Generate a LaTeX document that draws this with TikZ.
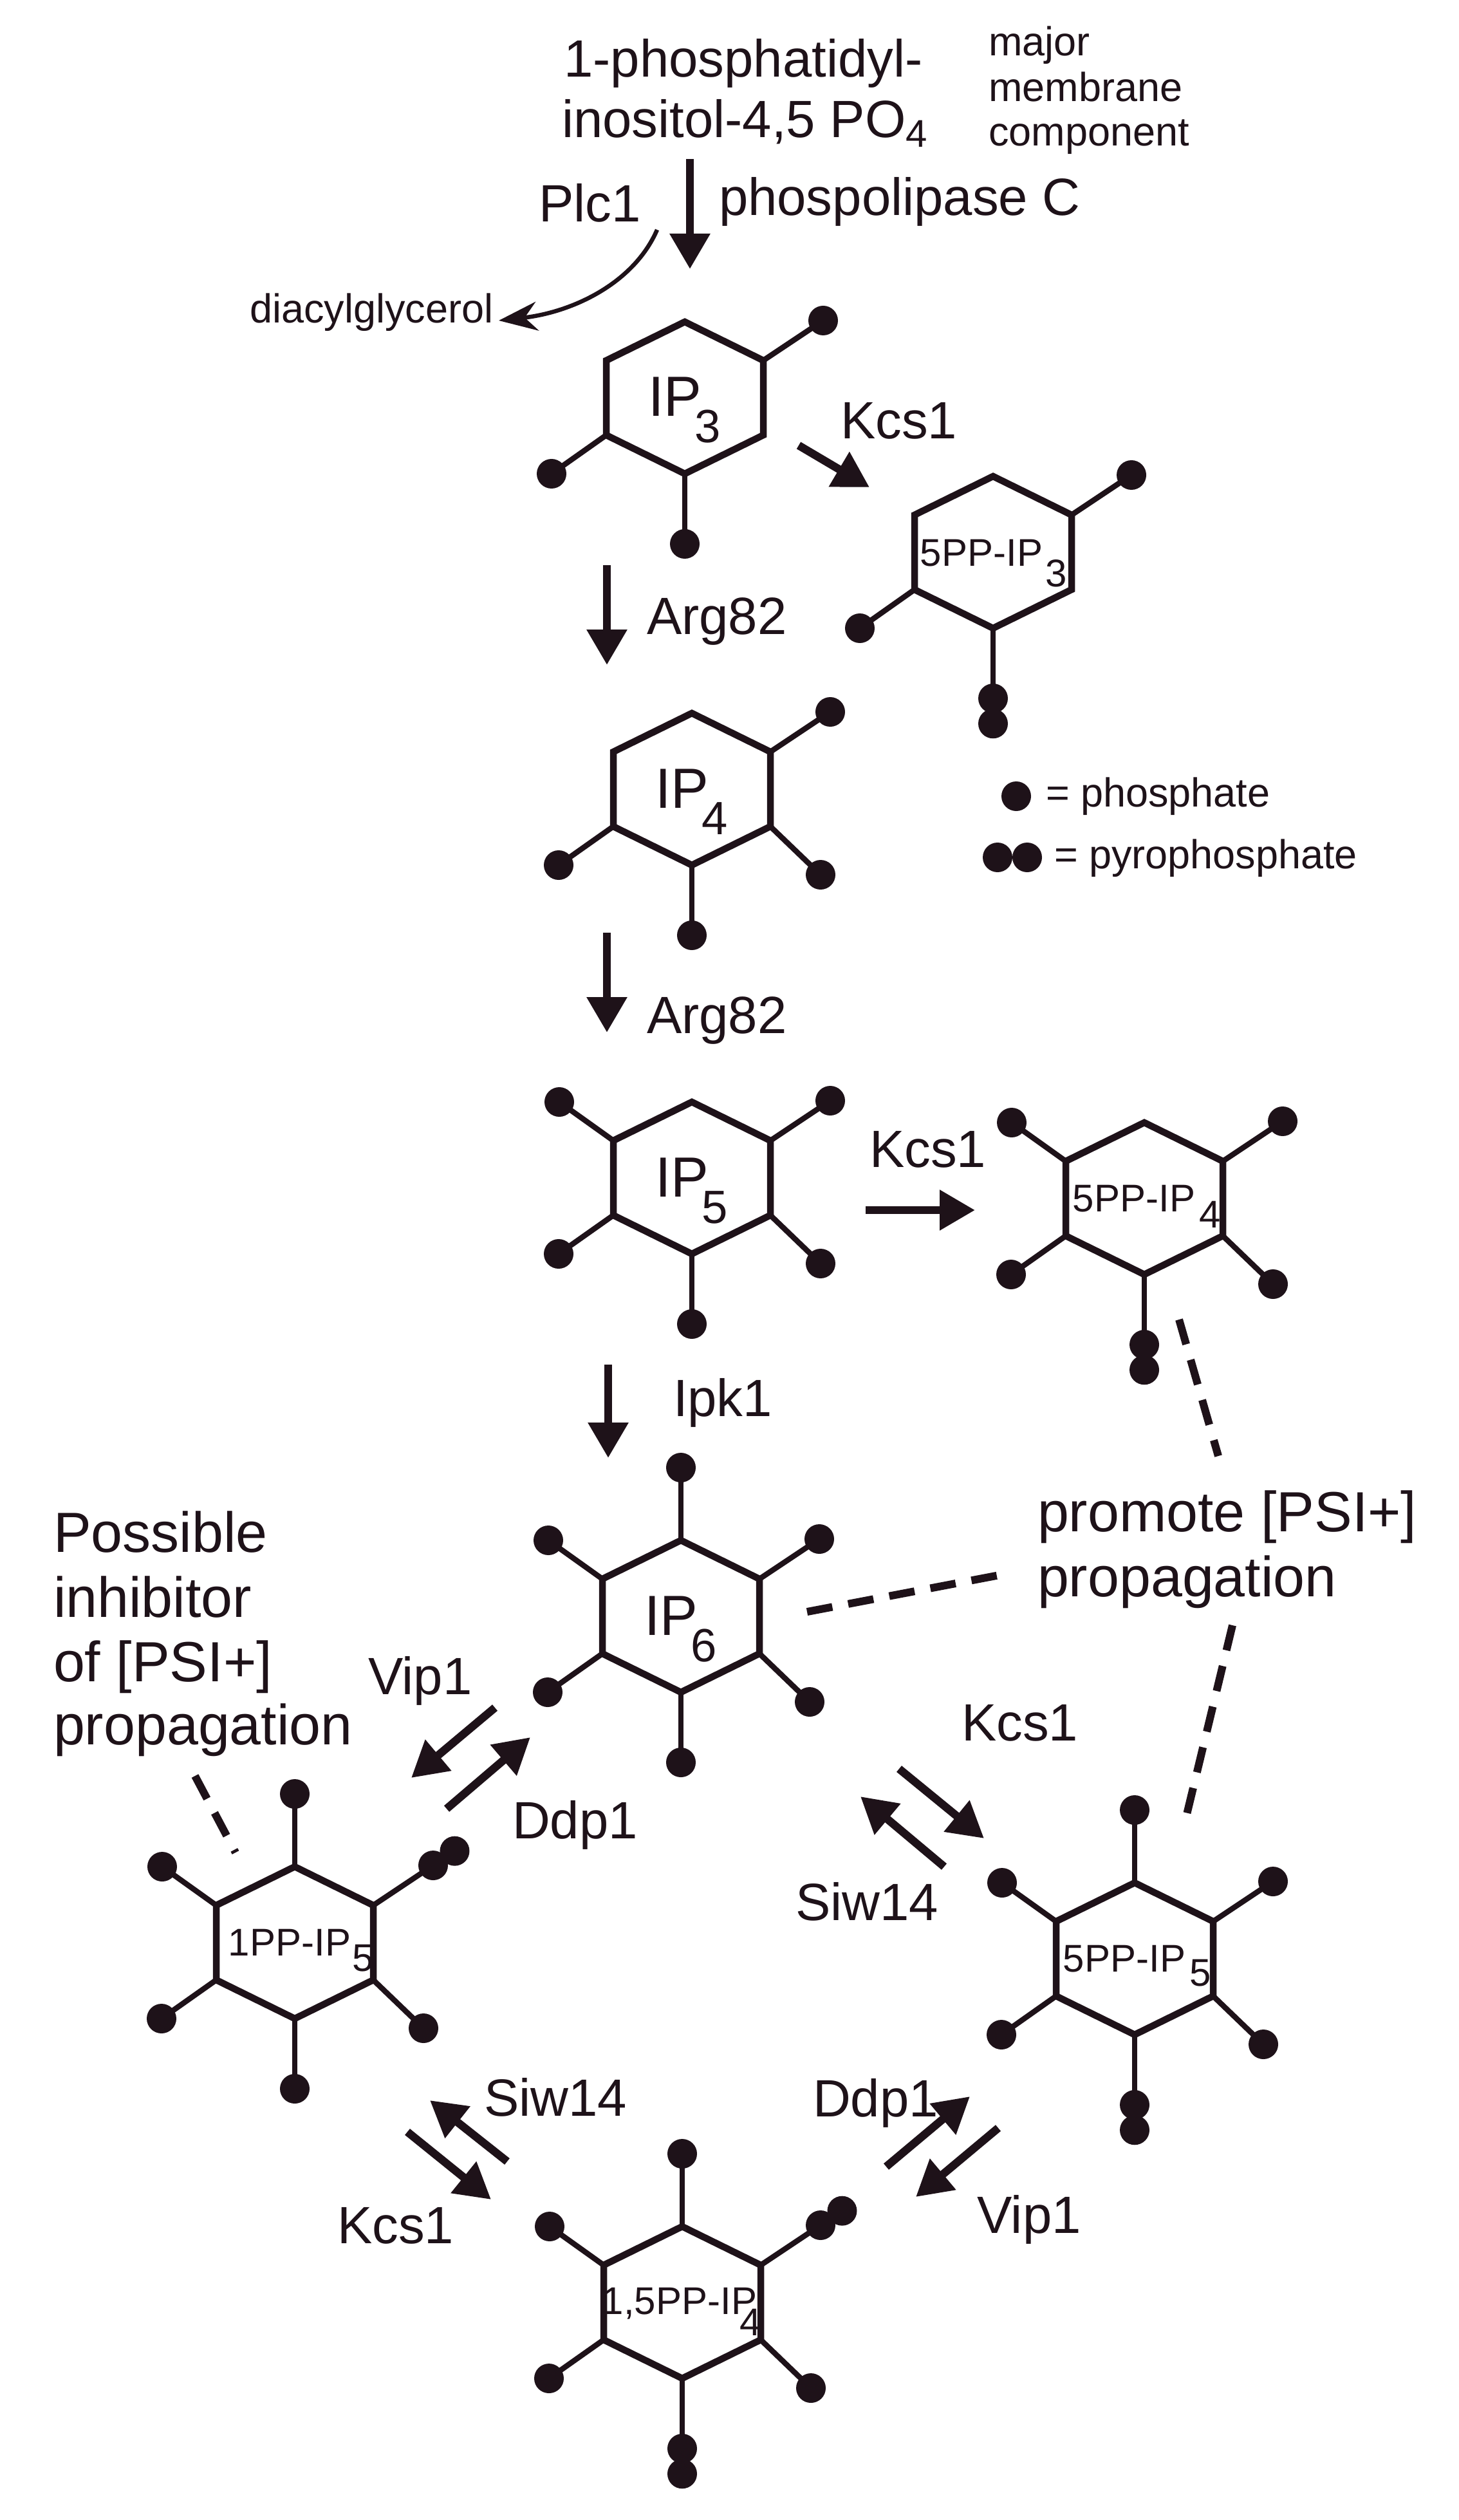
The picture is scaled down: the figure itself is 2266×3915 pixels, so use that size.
\documentclass[tikz,border=0pt]{standalone}
\usepackage{fontspec}
\setmainfont{Liberation Sans}
\usetikzlibrary{arrows.meta}
\definecolor{ink}{HTML}{1E1219}
\newcommand\ph[5]{%
  \ifnum#5=2
    \draw[bond] (#1,#2) -- ++(1.33*#3,1.33*#4);
    \fill[ink] (#1+1.36*#3,#2+1.36*#4) circle[radius=4.6pt];
  \else
    \draw[bond] (#1,#2) -- ++(#3,#4);
  \fi
  \fill[ink] (#1+#3,#2+#4) circle[radius=4.6pt];}
\newcommand\bT[1][1]{\ph{0}{-118}{0}{-113}{#1}}
\newcommand\bUR[1][1]{\ph{122}{-58}{93}{-62}{#1}}
\newcommand\bLR[1][1]{\ph{122}{58}{78}{75}{#1}}
\newcommand\bB[1][1]{\ph{0}{118}{0}{109}{#1}}
\newcommand\bLL[1][1]{\ph{-122}{58}{-85}{60}{#1}}
\newcommand\bUL[1][1]{\ph{-122}{-58}{-84}{-60}{#1}}
\newcommand\ring{\draw[hex] (0,-118)--(122,-58)--(122,58)--(0,118)--(-122,58)--(-122,-58)--cycle;}
\newcommand\sub[1]{{\fontsize{12}{12}\selectfont\raisebox{-0.25em}{#1}}}
\tikzset{
  hex/.style={ink,line width=2.1pt,line join=miter},
  bond/.style={ink,line width=1.7pt},
  rxn/.style={ink,line width=2.5pt,-{Triangle[length=11pt,width=12pt]}},
  dsh/.style={ink,line width=2.4pt,dash pattern=on 8pt off 5pt},
  lab/.style={text=ink,font=\fontsize{16.3}{19}\selectfont,inner sep=0,anchor=base west},
  sm/.style={text=ink,font=\fontsize{12.6}{15}\selectfont,inner sep=0,anchor=base west},
  psi/.style={text=ink,font=\fontsize{17.6}{21}\selectfont,inner sep=0,anchor=base west},
  big/.style={text=ink,font=\fontsize{17.6}{20}\selectfont,inner sep=0,anchor=base},
  bigsub/.style={text=ink,font=\fontsize{14.5}{16}\selectfont,inner sep=0,anchor=base west},
  hl/.style={text=ink,font=\fontsize{12}{14}\selectfont,inner sep=0,anchor=base},
  hls/.style={text=ink,font=\fontsize{12}{14}\selectfont,inner sep=0,anchor=base west},
}
\begin{document}
\begin{tikzpicture}[x=0.2pt,y=-0.2pt]
\useasboundingbox (0,0) rectangle (2266,3915);
\fill[white] (0,0) rectangle (2266,3915);
% top texts
\node[lab,anchor=base] (t1) at (1155,120) {1-phosphatidyl-};
\node[lab,anchor=base] (t2) at (1157,214) {inositol-4,5 PO\sub{4}};
\node[sm] (maj1) at (1535,87) {major};
\node[sm] (maj2) at (1535,158) {membrane};
\node[sm] (maj3) at (1535,227) {component};
\node[lab] (plc) at (836,345) {Plc1};
\node[lab] (plcC) at (1116,335) {phospolipase C};
\node[sm] (dag) at (387,502) {diacylglycerol};
% molecules
\begin{scope}[shift={(1064,618)}]\ring\bUR\bLL\bB
 \node[big] (ip3) at (-15,29) {IP};\node[bigsub] (ip3s) at (14,70) {3};\end{scope}
\begin{scope}[shift={(1543,858)}]\ring\bUR\bLL\bB[2]
 \node[hl] (p3) at (-18,22) {5PP-IP};\node[hls] (p3s) at (80,53) {3};\end{scope}
\begin{scope}[shift={(1075,1226)}]\ring\bUR\bLL\bLR\bB
 \node[big] (ip4) at (-15,29) {IP};\node[bigsub] (ip4s) at (14,70) {4};\end{scope}
\begin{scope}[shift={(1075,1830)}]\ring\bUL\bUR\bLL\bLR\bB
 \node[big] (ip5) at (-15,29) {IP};\node[bigsub] (ip5s) at (14,70) {5};\end{scope}
\begin{scope}[shift={(1778,1862)}]\ring\bUL\bUR\bLL\bLR\bB[2]
 \node[hl] (p4) at (-16,20) {5PP-IP};\node[hls] (p4s) at (84,45) {4};\end{scope}
\begin{scope}[shift={(1058,2511)}]\ring\bT\bUL\bUR\bLL\bLR\bB
 \node[big] (ip6) at (-15,29) {IP};\node[bigsub] (ip6s) at (14,70) {6};\end{scope}
\begin{scope}[shift={(458,3018)}]\ring\bT\bUL\bUR[2]\bLL\bLR\bB
 \node[hl] (p15) at (-8,20) {1PP-IP};\node[hls] (p15s) at (88,44) {5};\end{scope}
\begin{scope}[shift={(1763,3043)}]\ring\bT\bUL\bUR\bLL\bLR\bB[2]
 \node[hl] (p55) at (-16,20) {5PP-IP};\node[hls] (p55s) at (84,42) {5};\end{scope}
\begin{scope}[shift={(1060,3577)}]\ring\bT\bUL\bUR[2]\bLL\bLR\bB[2]
 \node[hl] (p154) at (-4,18) {1,5PP-IP};\node[hls] (p154s) at (88,51) {4};\end{scope}
% legend
\fill[ink] (1579,1237) circle[radius=4.6pt];
\node[sm] (leg1) at (1624,1253) {= phosphate};
\fill[ink] (1550,1332) circle[radius=4.6pt];
\fill[ink] (1596,1332) circle[radius=4.6pt];
\node[sm] (leg2) at (1637,1349) {= pyrophosphate};
% arrow coordinates
\coordinate (a0s) at (1072,247); \coordinate (a0e) at (1072,418);
\coordinate (c0s) at (1021,357); \coordinate (c0e) at (775,498);
\coordinate (a1s) at (1241,692); \coordinate (a1e) at (1351,757);
\coordinate (a2s) at (943,878); \coordinate (a2e) at (943,1033);
\coordinate (a3s) at (943,1449); \coordinate (a3e) at (943,1604);
\coordinate (a4s) at (1345,1880); \coordinate (a4e) at (1515,1880);
\coordinate (a5s) at (945,2120); \coordinate (a5e) at (945,2265);
\coordinate (a6s) at (769,2653); \coordinate (a6e) at (639,2762);
\coordinate (a7s) at (694,2810); \coordinate (a7e) at (824,2699);
\coordinate (a8s) at (1397,2748); \coordinate (a8e) at (1529,2856);
\coordinate (a9s) at (1467,2900); \coordinate (a9e) at (1337,2791);
\coordinate (b1s) at (788,3358); \coordinate (b1e) at (668,3263);
\coordinate (b2s) at (633,3312); \coordinate (b2e) at (763,3417);
\coordinate (b3s) at (1377,3366); \coordinate (b3e) at (1507,3257);
\coordinate (b4s) at (1551,3306); \coordinate (b4e) at (1423,3413);
\foreach \a in {a0,a1,a2,a3,a4,a5,a6,a7,a8,a9,b1,b2,b3,b4} \draw[rxn] (\a s) -- (\a e);
\draw[ink,line width=1.3pt,-{Stealth[length=12pt,width=9pt]}] (c0s) .. controls (985,440) and (890,485) .. (c0e);
% labels
\node[lab] (l1) at (1305,682) {Kcs1};
\node[lab] (l2) at (1004,985) {Arg82};
\node[lab] (l3) at (1004,1605) {Arg82};
\node[lab] (l4) at (1350,1813) {Kcs1};
\node[lab] (l5) at (1045,2200) {Ipk1};
\node[lab] (l6) at (571,2632) {Vip1};
\node[lab] (l7) at (795,2856) {Ddp1};
\node[lab] (l8) at (1493,2704) {Kcs1};
\node[lab] (l9) at (1235,2983) {Siw14};
\node[lab] (m1) at (751,3287) {Siw14};
\node[lab] (m2) at (523,3485) {Kcs1};
\node[lab] (m3) at (1262,3288) {Ddp1};
\node[lab] (m4) at (1517,3469) {Vip1};
% PSI texts
\node[psi] (q1) at (82,2411) {Possible};
\node[psi] (q2) at (82,2512) {inhibitor};
\node[psi] (q3) at (82,2612) {of [PSI+]};
\node[psi] (q4) at (82,2710) {propagation};
\node[psi] (r1) at (1611,2379) {promote [PSI+]};
\node[psi] (r2) at (1611,2480) {propagation};
% dashed connectors
\coordinate (d1s) at (1832,2050); \coordinate (d1e) at (1893,2262);
\coordinate (d2s) at (1254,2504); \coordinate (d2e) at (1553,2447);
\coordinate (d3s) at (1915,2525); \coordinate (d3e) at (1842,2827);
\coordinate (d4s) at (303,2759); \coordinate (d4e) at (366,2878);
\foreach \d in {d1,d2,d3,d4} \draw[dsh] (\d s) -- (\d e);
\end{tikzpicture}
\end{document}
